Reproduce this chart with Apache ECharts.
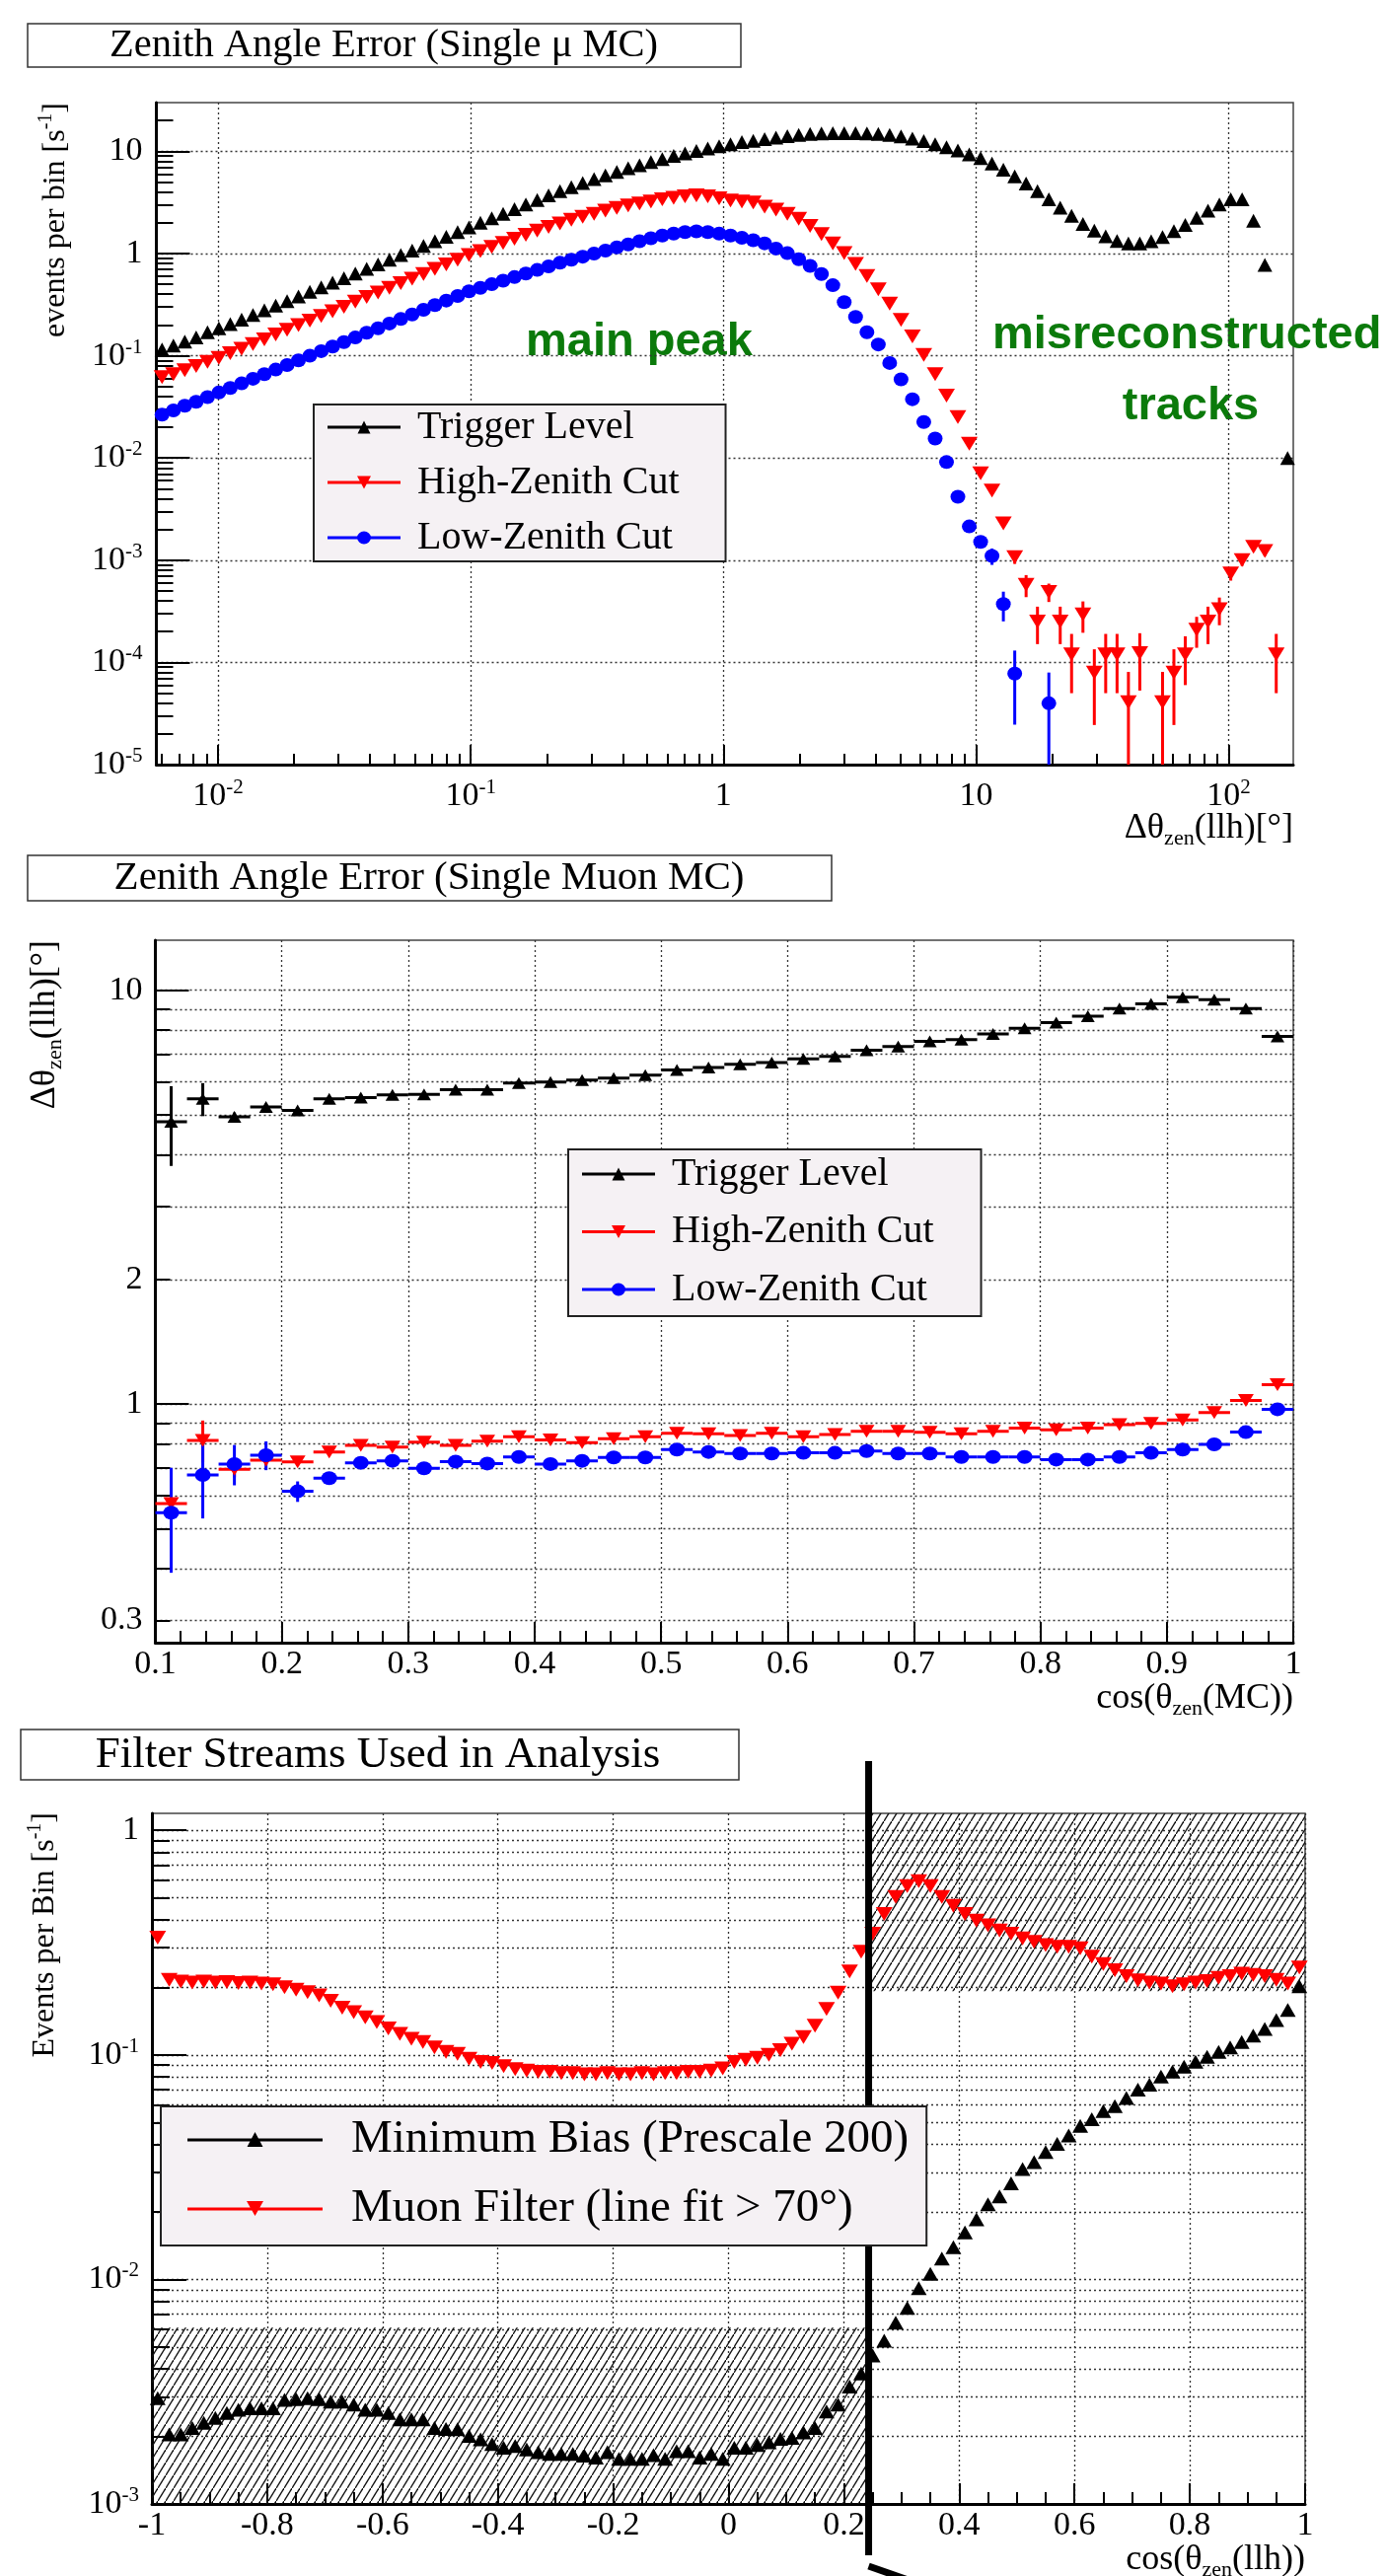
<!DOCTYPE html>
<html>
<head>
<meta charset="utf-8">
<title>Zenith Angle Error / Filter Streams</title>
<script src="https://cdn.jsdelivr.net/npm/echarts@6.0.0/dist/echarts.min.js"></script>
<style>
  html, body { margin: 0; padding: 0; background: #ffffff; }
  #main { width: 1406px; height: 2611px; }
</style>
</head>
<body>
<div id="main"></div>
<script type="text/javascript">
  // ---------- panel 1 : Zenith Angle Error (Single mu MC) ----------
  var p1XMin = 0.0057, p1XMax = 180, p1Bins = 100;
  var p1YMin = 1e-5, p1YMax = 30;
  var p1XMajor = [0.01, 0.1, 1, 10, 100];
  var p1XMinor = [0.006, 0.007, 0.008, 0.009, 0.02, 0.03, 0.04, 0.05, 0.06, 0.07, 0.08, 0.09,
                  0.2, 0.3, 0.4, 0.5, 0.6, 0.7, 0.8, 0.9, 2, 3, 4, 5, 6, 7, 8, 9,
                  20, 30, 40, 50, 60, 70, 80, 90];
  var p1YMajor = [1e-5, 1e-4, 1e-3, 0.01, 0.1, 1, 10];
  var p1YMinor = [2e-5, 3e-5, 4e-5, 5e-5, 6e-5, 7e-5, 8e-5, 9e-5,
                  2e-4, 3e-4, 4e-4, 5e-4, 6e-4, 7e-4, 8e-4, 9e-4,
                  0.002, 0.003, 0.004, 0.005, 0.006, 0.007, 0.008, 0.009,
                  0.02, 0.03, 0.04, 0.05, 0.06, 0.07, 0.08, 0.09,
                  0.2, 0.3, 0.4, 0.5, 0.6, 0.7, 0.8, 0.9,
                  2, 3, 4, 5, 6, 7, 8, 9, 20];

  var p1Trigger = [0.115, 0.126, 0.138, 0.151, 0.170, 0.186, 0.204, 0.226, 0.251, 0.279,
                   0.309, 0.343, 0.380, 0.422, 0.468, 0.519, 0.575, 0.638, 0.708, 0.785,
                   0.871, 0.966, 1.07, 1.19, 1.32, 1.46, 1.62, 1.80, 2.00, 2.21,
                   2.45, 2.72, 3.02, 3.35, 3.72, 4.07, 4.47, 4.90, 5.37, 5.82,
                   6.31, 6.84, 7.33, 7.85, 8.41, 9.02, 9.55, 10.1, 10.7, 11.2,
                   11.7, 12.3, 12.7, 13.2, 13.6, 14.1, 14.5, 14.8, 15.0, 15.1,
                   15.1, 15.1, 15.0, 14.8, 14.5, 14.0, 13.3, 12.6, 11.7, 11.0,
                   10.2, 9.33, 8.61, 7.59, 6.61, 5.69, 4.84, 4.07, 3.39, 2.82,
                   2.34, 1.95, 1.68, 1.48, 1.33, 1.26, 1.26, 1.32, 1.45, 1.66,
                   1.91, 2.24, 2.63, 3.02, 3.39, 3.39, 2.09, 0.776, null, 0.0100];
  var p1High = [0.0617, 0.0661, 0.0724, 0.0794, 0.0871, 0.0955, 0.106, 0.117, 0.130, 0.145,
                0.162, 0.180, 0.200, 0.221, 0.245, 0.272, 0.302, 0.339, 0.376, 0.417,
                0.462, 0.513, 0.569, 0.631, 0.708, 0.785, 0.871, 0.966, 1.06, 1.16,
                1.27, 1.40, 1.53, 1.68, 1.82, 1.97, 2.14, 2.29, 2.45, 2.63,
                2.79, 2.95, 3.09, 3.24, 3.39, 3.51, 3.63, 3.72, 3.63, 3.47,
                3.31, 3.24, 3.16, 2.88, 2.69, 2.45, 2.19, 1.86, 1.55, 1.26,
                1.01, 0.794, 0.603, 0.447, 0.324, 0.224, 0.155, 0.102, 0.0661, 0.0407,
                0.0251, 0.0138, 0.00708, 0.00479, 0.00229, 0.00107, 5.75e-4, 2.51e-4, 4.9e-4, 2.51e-4,
                1.2e-4, 2.95e-4, 7.94e-5, 1.2e-4, 1.2e-4, 4.07e-5, 1.23e-4, null, 4.07e-5, 7.94e-5,
                1.2e-4, 2.09e-4, 2.51e-4, 3.31e-4, 7.41e-4, 1.0e-3, 1.35e-3, 1.23e-3, 1.2e-4, null];
  var p1HighErr = [0, 0, 0, 0, 0, 0, 0, 0, 0, 0,
                   0, 0, 0, 0, 0, 0, 0, 0, 0, 0,
                   0, 0, 0, 0, 0, 0, 0, 0, 0, 0,
                   0, 0, 0, 0, 0, 0, 0, 0, 0, 0,
                   0, 0, 0, 0, 0, 0, 0, 0, 0, 0,
                   0, 0, 0, 0, 0, 0, 0, 0, 0, 0,
                   0, 0, 0, 0, 0, 0, 0, 0, 0, 0,
                   0, 0, 0, 0, 0, 1.5e-4, 1.4e-4, 1.0e-4, 1.0e-4, 1.0e-4,
                   7e-5, 1.0e-4, 5.5e-5, 7e-5, 7e-5, 4e-5, 7e-5, 0, 4e-5, 5.5e-5,
                   6e-5, 7e-5, 1.0e-4, 1.0e-4, 1.1e-4, 1.2e-4, 1.3e-4, 1.3e-4, 7e-5, 0];
  var p1Low = [0.0265, 0.0292, 0.0324, 0.0355, 0.0394, 0.0437, 0.0484, 0.0537, 0.0596, 0.0661,
               0.0733, 0.0813, 0.0902, 0.100, 0.111, 0.123, 0.136, 0.151, 0.168, 0.186,
               0.207, 0.229, 0.254, 0.282, 0.313, 0.347, 0.385, 0.427, 0.462, 0.501,
               0.543, 0.589, 0.638, 0.692, 0.750, 0.813, 0.871, 0.933, 1.00, 1.07,
               1.15, 1.23, 1.32, 1.41, 1.50, 1.57, 1.62, 1.65, 1.62, 1.57,
               1.50, 1.43, 1.35, 1.26, 1.12, 1.01, 0.881, 0.759, 0.631, 0.490,
               0.335, 0.240, 0.170, 0.129, 0.0851, 0.0589, 0.0376, 0.0225, 0.0155, 0.00912,
               0.00417, 0.00214, 0.00151, 0.00110, 3.72e-4, 7.76e-5, null, null, 3.98e-5, null,
               null, null, null, null, null, null, null, null, null, null,
               null, null, null, null, null, null, null, null, null, null];
  var p1LowErr = [0, 0, 0, 0, 0, 0, 0, 0, 0, 0,
                  0, 0, 0, 0, 0, 0, 0, 0, 0, 0,
                  0, 0, 0, 0, 0, 0, 0, 0, 0, 0,
                  0, 0, 0, 0, 0, 0, 0, 0, 0, 0,
                  0, 0, 0, 0, 0, 0, 0, 0, 0, 0,
                  0, 0, 0, 0, 0, 0, 0, 0, 0, 0,
                  0, 0, 0, 0, 0, 0, 0, 0, 0, 0,
                  0, 0, 0, 2.0e-4, 1.2e-4, 5.3e-5, 0, 0, 3.98e-5, 0,
                  0, 0, 0, 0, 0, 0, 0, 0, 0, 0,
                  0, 0, 0, 0, 0, 0, 0, 0, 0, 0];

  // ---------- panel 2 : Zenith Angle Error (Single Muon MC) ----------
  var p2XMin = 0.1, p2XMax = 1, p2BinWidth = 0.025;
  var p2YMin = 0.265, p2YMax = 13.2;
  var p2YMajor = [1, 10];
  var p2YLabels = [0.3, 1, 2, 10];
  var p2YMinor = [0.3, 0.4, 0.5, 0.6, 0.7, 0.8, 0.9, 2, 3, 4, 5, 6, 7, 8, 9];
  var p2Trigger = [4.81, 5.46, 4.94, 5.22, 5.12, 5.46, 5.50, 5.58, 5.60, 5.75, 5.75, 5.96,
                   6.00, 6.06, 6.13, 6.23, 6.41, 6.50, 6.62, 6.68, 6.82, 6.92, 7.16, 7.31,
                   7.52, 7.59, 7.84, 8.09, 8.35, 8.65, 9.03, 9.27, 9.62, 9.48, 9.03, 7.73];
  var p2TriggerErr = [1.05, 0.5, 0.12, 0.1, 0.08, 0.08, 0.07, 0.07, 0.06, 0.06, 0.06, 0.06,
                      0.05, 0.05, 0.05, 0.05, 0.05, 0.05, 0.05, 0.05, 0.05, 0.05, 0.05, 0.05,
                      0.05, 0.05, 0.05, 0.05, 0.05, 0.05, 0.05, 0.05, 0.05, 0.05, 0.05, 0.06];
  var p2High = [0.575, 0.817, 0.695, 0.732, 0.725, 0.766, 0.794, 0.787, 0.809, 0.794, 0.813, 0.834,
                0.819, 0.806, 0.824, 0.834, 0.850, 0.847, 0.839, 0.850, 0.834, 0.844, 0.859, 0.859,
                0.854, 0.847, 0.859, 0.875, 0.866, 0.875, 0.891, 0.898, 0.915, 0.954, 1.02, 1.114];
  var p2HighErr = [0.02, 0.095, 0.03, 0.02, 0.015, 0.012, 0.01, 0.01, 0.01, 0.01, 0.01, 0.01,
                   0.01, 0.01, 0.01, 0.01, 0.01, 0.01, 0.01, 0.01, 0.01, 0.01, 0.01, 0.01,
                   0.01, 0.01, 0.01, 0.01, 0.01, 0.01, 0.01, 0.01, 0.01, 0.01, 0.01, 0.012];
  var p2Low = [0.546, 0.674, 0.716, 0.752, 0.615, 0.662, 0.721, 0.729, 0.699, 0.726, 0.718, 0.745,
               0.716, 0.729, 0.743, 0.743, 0.776, 0.766, 0.759, 0.759, 0.762, 0.762, 0.770, 0.759,
               0.759, 0.745, 0.745, 0.745, 0.734, 0.734, 0.745, 0.762, 0.776, 0.799, 0.855, 0.971];
  var p2LowErr = [0.155, 0.145, 0.08, 0.06, 0.035, 0.02, 0.015, 0.015, 0.012, 0.012, 0.01, 0.01,
                  0.01, 0.01, 0.01, 0.01, 0.01, 0.01, 0.01, 0.01, 0.01, 0.01, 0.01, 0.01,
                  0.01, 0.01, 0.01, 0.01, 0.01, 0.01, 0.01, 0.01, 0.01, 0.01, 0.01, 0.012];

  // ---------- panel 3 : Filter Streams Used in Analysis ----------
  var p3XMin = -1, p3XMax = 1, p3Bins = 100;
  var p3YMin = 0.001, p3YMax = 1.19;
  var p3YMajor = [0.001, 0.01, 0.1, 1];
  var p3YMinor = [0.002, 0.003, 0.004, 0.005, 0.006, 0.007, 0.008, 0.009,
                  0.02, 0.03, 0.04, 0.05, 0.06, 0.07, 0.08, 0.09,
                  0.2, 0.3, 0.4, 0.5, 0.6, 0.7, 0.8, 0.9];
  var p3Cut = 0.243;
  // excluded regions: [x from, x to, y from, y to]
  var p3Hatch = [[p3Cut, 1, 0.192, 1.19], [-1, p3Cut, 0.001, 0.0061]];
  var p3MinBias = [0.00296, 0.00204, 0.00204, 0.00218, 0.00230, 0.00242, 0.00254, 0.00263, 0.00267, 0.00267,
                   0.00267, 0.00291, 0.00293, 0.00296, 0.00293, 0.00286, 0.00286, 0.00277, 0.00263, 0.00263,
                   0.00254, 0.00238, 0.00238, 0.00238, 0.00218, 0.00216, 0.00215, 0.00201, 0.00194, 0.00185,
                   0.00178, 0.00181, 0.00175, 0.00170, 0.00167, 0.00167, 0.00167, 0.00164, 0.00161, 0.00170,
                   0.00159, 0.00159, 0.00159, 0.00165, 0.00159, 0.00172, 0.00172, 0.00161, 0.00167, 0.00159,
                   0.00178, 0.00178, 0.00183, 0.00188, 0.00195, 0.00197, 0.00208, 0.00218, 0.00258, 0.00277,
                   0.00333, 0.00381, 0.00458, 0.00533, 0.00641, 0.00746, 0.00914, 0.0106, 0.0124, 0.0139,
                   0.0162, 0.0185, 0.0216, 0.0234, 0.0268, 0.0310, 0.0333, 0.0369, 0.0402, 0.0437,
                   0.0483, 0.0517, 0.0562, 0.0591, 0.0643, 0.0700, 0.0736, 0.0800, 0.0842, 0.0886,
                   0.0931, 0.0980, 0.103, 0.108, 0.114, 0.122, 0.1305, 0.143, 0.1585, 0.202];
  var p3Muon = [0.333, 0.216, 0.212, 0.210, 0.212, 0.210, 0.211, 0.209, 0.210, 0.208,
                0.206, 0.200, 0.195, 0.190, 0.184, 0.174, 0.162, 0.155, 0.147, 0.140,
                0.131, 0.124, 0.118, 0.114, 0.108, 0.103, 0.101, 0.096, 0.093, 0.092,
                0.089, 0.0865, 0.085, 0.084, 0.084, 0.083, 0.083, 0.082, 0.082, 0.083,
                0.082, 0.082, 0.083, 0.082, 0.083, 0.083, 0.084, 0.084, 0.085, 0.087,
                0.093, 0.095, 0.097, 0.100, 0.105, 0.112, 0.120, 0.135, 0.160, 0.189,
                0.235, 0.288, 0.346, 0.424, 0.505, 0.565, 0.594, 0.565, 0.505, 0.461,
                0.424, 0.396, 0.377, 0.358, 0.346, 0.330, 0.319, 0.308, 0.303, 0.303,
                0.298, 0.274, 0.254, 0.238, 0.224, 0.215, 0.210, 0.208, 0.202, 0.206,
                0.210, 0.213, 0.220, 0.224, 0.230, 0.227, 0.224, 0.216, 0.208, 0.245];

  // ---------- bin centres ----------
  var p1Centers = [];
  var p1LogLo = Math.log10(p1XMin), p1LogHi = Math.log10(p1XMax);
  for (var i = 0; i < p1Bins; i++) {
    p1Centers.push(Math.pow(10, p1LogLo + (i + 0.5) * (p1LogHi - p1LogLo) / p1Bins));
  }
  var p2Centers = [];
  for (var i = 0; i < p2Trigger.length; i++) p2Centers.push(+(p2XMin + (i + 0.5) * p2BinWidth).toFixed(4));
  var p3Centers = [];
  for (var i = 0; i < p3Bins; i++) p3Centers.push(+(p3XMin + (i + 0.5) * (p3XMax - p3XMin) / p3Bins).toFixed(4));

  function pairs(xs, ys) {
    var out = [];
    for (var k = 0; k < xs.length; k++) if (ys[k] != null) out.push([xs[k], ys[k]]);
    return out;
  }
  function triples(xs, ys, es) {
    var out = [];
    for (var k = 0; k < xs.length; k++) if (ys[k] != null && es[k] > 0) out.push([xs[k], ys[k], es[k]]);
    return out;
  }

  // ---------- style helpers ----------
  var SERIF = '"Liberation Serif", "Times New Roman", serif';
  var SANS = '"Liberation Sans", Arial, sans-serif';
  var dotted = { color: '#333', width: 1.3, type: [2, 3] };
  var supRich = {
    b: { fontFamily: SERIF, fontSize: 34, color: '#000', lineHeight: 38 },
    s: { fontFamily: SERIF, fontSize: 21, color: '#000', lineHeight: 17, verticalAlign: 'top' }
  };
  function powLabel(v) {
    var e = Math.round(Math.log10(v));
    if (e === 0) return '{b|1}';
    if (e === 1) return '{b|10}';
    return '{b|10}{s|' + e + '}';
  }
  function plainLabel(v) { return '{b|' + (+(+v).toFixed(3)) + '}'; }

  function mainLog(grid, pos, min, max, ticks, tickLen, labels, fmt, margin) {
    return {
      type: 'log', logBase: 10, gridIndex: grid, position: pos, min: min, max: max,
      axisLine: { show: true, onZero: false, lineStyle: { color: '#000', width: 3 } },
      axisTick: { show: true, inside: true, length: tickLen, customValues: ticks, lineStyle: { color: '#000', width: 2 } },
      axisLabel: { show: true, customValues: labels, formatter: fmt, margin: margin, rich: supRich,
                   showMinLabel: true, showMaxLabel: true },
      splitLine: { show: true, lineStyle: dotted },
      minorTick: { show: false }, minorSplitLine: { show: false }
    };
  }
  function minorLog(grid, pos, min, max, ticks, tickLen, gridLines) {
    return {
      type: 'log', logBase: 10, gridIndex: grid, position: pos, min: min, max: max,
      axisLine: { show: false, onZero: false },
      axisTick: { show: true, inside: true, length: tickLen, customValues: ticks, lineStyle: { color: '#000', width: 2 } },
      axisLabel: { show: false },
      splitLine: { show: gridLines, lineStyle: dotted },
      minorTick: { show: false }, minorSplitLine: { show: false }
    };
  }
  function linAxis(grid, min, max, step, minorSplit, margin) {
    return {
      type: 'value', gridIndex: grid, position: 'bottom', min: min, max: max, interval: step,
      axisLine: { show: true, onZero: false, lineStyle: { color: '#000', width: 3 } },
      axisTick: { show: true, inside: true, length: 21, lineStyle: { color: '#000', width: 2 } },
      minorTick: { show: true, splitNumber: minorSplit, length: 12, lineStyle: { color: '#000', width: 2 } },
      axisLabel: { show: true, formatter: plainLabel, margin: margin, rich: supRich, showMinLabel: true, showMaxLabel: true },
      splitLine: { show: true, lineStyle: dotted },
      minorSplitLine: { show: false }
    };
  }

  function vErrRender(color, yFloor) {
    return function (params, api) {
      var x = api.value(0), v = api.value(1), e = api.value(2);
      var a = api.coord([x, Math.max(v - e, yFloor)]), b = api.coord([x, v + e]);
      return { type: 'line', shape: { x1: a[0], y1: a[1], x2: b[0], y2: b[1] },
               style: { stroke: color, lineWidth: 3 } };
    };
  }
  function binBarRender(color, half) {
    return function (params, api) {
      var x = api.value(0), v = api.value(1), e = api.value(2);
      var a = api.coord([x - half, v]), b = api.coord([x + half, v]);
      var c = api.coord([x, v - e]), d = api.coord([x, v + e]);
      return { type: 'group', children: [
        { type: 'line', shape: { x1: a[0], y1: a[1], x2: b[0], y2: b[1] }, style: { stroke: color, lineWidth: 3 } },
        { type: 'line', shape: { x1: c[0], y1: c[1], x2: d[0], y2: d[1] }, style: { stroke: color, lineWidth: 3 } }
      ] };
    };
  }

  function makeHatch() {
    var c = document.createElement('canvas');
    c.width = 8; c.height = 13;
    var g = c.getContext('2d');
    g.strokeStyle = '#111';
    g.lineWidth = 1.4;
    g.beginPath();
    g.moveTo(-1, 14.6);
    g.lineTo(9, -1.6);
    g.stroke();
    return c;
  }
  var hatchFill = { image: makeHatch(), repeat: 'repeat' };

  function scatter(name, xi, yi, data, color, symbol, size, rot) {
    return { type: 'scatter', name: name, xAxisIndex: xi, yAxisIndex: yi, data: data,
             symbol: symbol, symbolSize: size, symbolRotate: rot || 0, z: 3,
             itemStyle: { color: color, opacity: 1 }, emphasis: { disabled: true } };
  }

  var ICON_UP = 'path://M0,5L74,5L74,8L0,8Z M30.5,13L37,0L43.5,13Z';
  var ICON_DOWN = 'path://M0,5L74,5L74,8L0,8Z M30,0L44,0L37,13Z';
  var ICON_DOT = 'path://M0,5L74,5L74,8L0,8Z M30,6.5A7,6.5,0,1,1,44,6.5A7,6.5,0,1,1,30,6.5Z';
  var ICON3_UP = 'path://M0,6.5L137,6.5L137,9.5L0,9.5Z M60.5,15L68.5,0L76.5,15Z';
  var ICON3_DOWN = 'path://M0,6.5L137,6.5L137,9.5L0,9.5Z M60,0L77,0L68.5,15Z';

  var legendBase = {
    orient: 'vertical', selectedMode: false, backgroundColor: '#f5f1f4', z: 10,
    borderColor: '#222', borderWidth: 2, borderRadius: 0
  };

  var series = [
    // panel 1
    { type: 'custom', name: 'p1HighErr', xAxisIndex: 0, yAxisIndex: 0, z: 2,
      data: triples(p1Centers, p1High, p1HighErr), renderItem: vErrRender('#ff0000', p1YMin), encode: { x: 0, y: 1 } },
    { type: 'custom', name: 'p1LowErr', xAxisIndex: 0, yAxisIndex: 0, z: 2,
      data: triples(p1Centers, p1Low, p1LowErr), renderItem: vErrRender('#0000ff', p1YMin), encode: { x: 0, y: 1 } },
    scatter('Trigger Level', 0, 0, pairs(p1Centers, p1Trigger), '#000000', 'triangle', [15, 14]),
    scatter('High-Zenith Cut', 0, 0, pairs(p1Centers, p1High), '#ff0000', 'triangle', [17, 14], 180),
    scatter('Low-Zenith Cut', 0, 0, pairs(p1Centers, p1Low), '#0000ff', 'circle', [15, 14]),
    // panel 2
    { type: 'custom', name: 'p2TrigBars', xAxisIndex: 2, yAxisIndex: 2, z: 2,
      data: triples(p2Centers, p2Trigger, p2TriggerErr), renderItem: binBarRender('#000000', p2BinWidth / 2), encode: { x: 0, y: 1 } },
    { type: 'custom', name: 'p2HighBars', xAxisIndex: 2, yAxisIndex: 2, z: 2,
      data: triples(p2Centers, p2High, p2HighErr), renderItem: binBarRender('#ff0000', p2BinWidth / 2), encode: { x: 0, y: 1 } },
    { type: 'custom', name: 'p2LowBars', xAxisIndex: 2, yAxisIndex: 2, z: 2,
      data: triples(p2Centers, p2Low, p2LowErr), renderItem: binBarRender('#0000ff', p2BinWidth / 2), encode: { x: 0, y: 1 } },
    scatter('Trigger Level', 2, 2, pairs(p2Centers, p2Trigger), '#000000', 'triangle', [14, 12]),
    scatter('High-Zenith Cut', 2, 2, pairs(p2Centers, p2High), '#ff0000', 'triangle', [16, 13], 180),
    scatter('Low-Zenith Cut', 2, 2, pairs(p2Centers, p2Low), '#0000ff', 'circle', [16, 14]),
    // panel 3
    { type: 'custom', name: 'p3Hatch', xAxisIndex: 3, yAxisIndex: 4, z: 1, clip: true,
      dimensions: ['x0', 'x1', 'y0', 'y1'], encode: { x: [0, 1], y: [2, 3] }, data: p3Hatch,
      renderItem: function (params, api) {
        var a = api.coord([api.value(0), api.value(3)]), b = api.coord([api.value(1), api.value(2)]);
        return { type: 'rect', shape: { x: a[0], y: a[1], width: b[0] - a[0], height: b[1] - a[1] },
                 style: { fill: hatchFill, stroke: null } };
      } },
    scatter('Minimum Bias (Prescale 200)', 3, 4, pairs(p3Centers, p3MinBias), '#000000', 'triangle', [16, 14]),
    scatter('Muon Filter (line fit > 70°)', 3, 4, pairs(p3Centers, p3Muon), '#ff0000', 'triangle', [17, 14], 180),
    { type: 'custom', name: 'p3CutLine', xAxisIndex: 3, yAxisIndex: 4, z: 4, clip: false,
      data: [[p3Cut, p3YMin]], encode: { x: 0, y: 1 },
      renderItem: function (params, api) {
        var top = api.coord([api.value(0), p3YMax]), bot = api.coord([api.value(0), p3YMin]);
        return { type: 'group', children: [
          { type: 'line', shape: { x1: top[0], y1: top[1] - 53, x2: bot[0], y2: bot[1] + 52 },
            style: { stroke: '#000', lineWidth: 7 } },
          { type: 'line', shape: { x1: bot[0], y1: bot[1] + 63, x2: bot[0] + 40, y2: bot[1] + 77 },
            style: { stroke: '#000', lineWidth: 7 } }
        ] };
      } }
  ];

  function titleBox(x, y, w, h, text, size, cx, cy) {
    return [
      { type: 'rect', shape: { x: x, y: y, width: w, height: h }, style: { fill: '#fff', stroke: '#333', lineWidth: 1.5 } },
      { type: 'text', x: cx, y: cy, style: { text: text, fontFamily: SERIF, fontSize: size, fill: '#000',
        align: 'center', verticalAlign: 'middle' } }
    ];
  }
  var axRich = {
    a: { fontFamily: SERIF, fontSize: 36, fill: '#000', lineHeight: 42 },
    z: { fontFamily: SERIF, fontSize: 22, fill: '#000', lineHeight: 27, verticalAlign: 'bottom' },
    u: { fontFamily: SERIF, fontSize: 20, fill: '#000', lineHeight: 20, verticalAlign: 'top' },
    e: { fontFamily: SERIF, fontSize: 32, fill: '#000', lineHeight: 40 }
  };
  function axisTitle(x, y, text, rotated) {
    return { type: 'text', x: x, y: y, rotation: rotated ? Math.PI / 2 : 0,
             style: { text: text, rich: axRich, align: 'right', verticalAlign: 'middle' } };
  }
  function note(x, y, text, align) {
    return { type: 'text', x: x, y: y, style: { text: text, fontFamily: SANS, fontWeight: 'bold', fontSize: 47,
             fill: '#0b7a0b', align: align, verticalAlign: 'middle' } };
  }

  var graphics = [].concat(
    titleBox(28, 24, 723, 44, 'Zenith Angle Error (Single \u03bc MC)', 40.5, 389, 46),
    titleBox(28, 867, 815, 46, 'Zenith Angle Error (Single Muon MC)', 41, 435, 890),
    titleBox(21, 1753, 728, 51, 'Filter Streams Used in Analysis', 45, 383, 1779),
    [
      axisTitle(1311, 840, '{a|\u0394\u03b8}{z|zen}{a|(llh)[\u00b0]}', false),
      axisTitle(1311, 1722, '{a|cos(\u03b8}{z|zen}{a|(MC))}', false),
      axisTitle(1323, 2595, '{a|cos(\u03b8}{z|zen}{a|(llh))}', false),
      axisTitle(57, 104, '{e|events per bin [s}{u|-1}{e|]}', true),
      axisTitle(46, 953, '{a|\u0394\u03b8}{z|zen}{a|(llh)[\u00b0]}', true),
      axisTitle(46, 1837, '{e|Events per Bin [s}{u|-1}{e|]}', true),
      note(533, 347, 'main peak', 'left'),
      note(1006, 340, 'misreconstructed', 'left'),
      note(1207, 412, 'tracks', 'center')
    ]
  );

  var option = {
    animation: false,
    backgroundColor: '#ffffff',
    grid: [
      { left: 158.5, top: 104, width: 1152.5, height: 671, show: true, borderColor: '#444', borderWidth: 1.5, backgroundColor: 'transparent' },
      { left: 157.5, top: 953, width: 1153.5, height: 712, show: true, borderColor: '#444', borderWidth: 1.5, backgroundColor: 'transparent' },
      { left: 154, top: 1838, width: 1169, height: 700, show: true, borderColor: '#444', borderWidth: 1.5, backgroundColor: 'transparent' }
    ],
    xAxis: [
      mainLog(0, 'bottom', p1XMin, p1XMax, p1XMajor, 20, p1XMajor, powLabel, 13),
      minorLog(0, 'bottom', p1XMin, p1XMax, p1XMinor, 11, false),
      linAxis(1, p2XMin, p2XMax, 0.1, 5, 3),
      linAxis(2, p3XMin, p3XMax, 0.2, 4, 3)
    ],
    yAxis: [
      mainLog(0, 'left', p1YMin, p1YMax, p1YMajor, 34, p1YMajor, powLabel, 14),
      minorLog(0, 'left', p1YMin, p1YMax, p1YMinor, 17, false),
      mainLog(1, 'left', p2YMin, p2YMax, p2YMajor, 34, p2YLabels, plainLabel, 13),
      minorLog(1, 'left', p2YMin, p2YMax, p2YMinor, 15, true),
      mainLog(2, 'left', p3YMin, p3YMax, p3YMajor, 35, p3YMajor, powLabel, 13),
      minorLog(2, 'left', p3YMin, p3YMax, p3YMinor, 18, true)
    ],
    legend: [
      Object.assign({}, legendBase, {
        left: 318, top: 410, padding: [3, 47, 4, 14], itemGap: 16, itemWidth: 74, itemHeight: 13,
        textStyle: { fontFamily: SERIF, fontSize: 40, color: '#000', padding: [0, 0, 0, 12] },
        data: [{ name: 'Trigger Level', icon: ICON_UP }, { name: 'High-Zenith Cut', icon: ICON_DOWN },
               { name: 'Low-Zenith Cut', icon: ICON_DOT }]
      }),
      Object.assign({}, legendBase, {
        left: 576, top: 1165, padding: [5, 48, 7, 14], itemGap: 18.5, itemWidth: 74, itemHeight: 13,
        textStyle: { fontFamily: SERIF, fontSize: 40, color: '#000', padding: [0, 0, 0, 12] },
        data: [{ name: 'Trigger Level', icon: ICON_UP }, { name: 'High-Zenith Cut', icon: ICON_DOWN },
               { name: 'Low-Zenith Cut', icon: ICON_DOT }]
      }),
      Object.assign({}, legendBase, {
        left: 163, top: 2135, padding: [10, 18, 14, 27], itemGap: 23, itemWidth: 137, itemHeight: 15,
        textStyle: { fontFamily: SERIF, fontSize: 47, color: '#000', padding: [0, 0, 0, 24] },
        data: [{ name: 'Minimum Bias (Prescale 200)', icon: ICON3_UP },
               { name: 'Muon Filter (line fit > 70°)', icon: ICON3_DOWN }]
      })
    ],
    graphic: graphics,
    series: series
  };

  var myChart = echarts.init(document.getElementById('main'));
  myChart.setOption(option);
</script>
</body>
</html>
